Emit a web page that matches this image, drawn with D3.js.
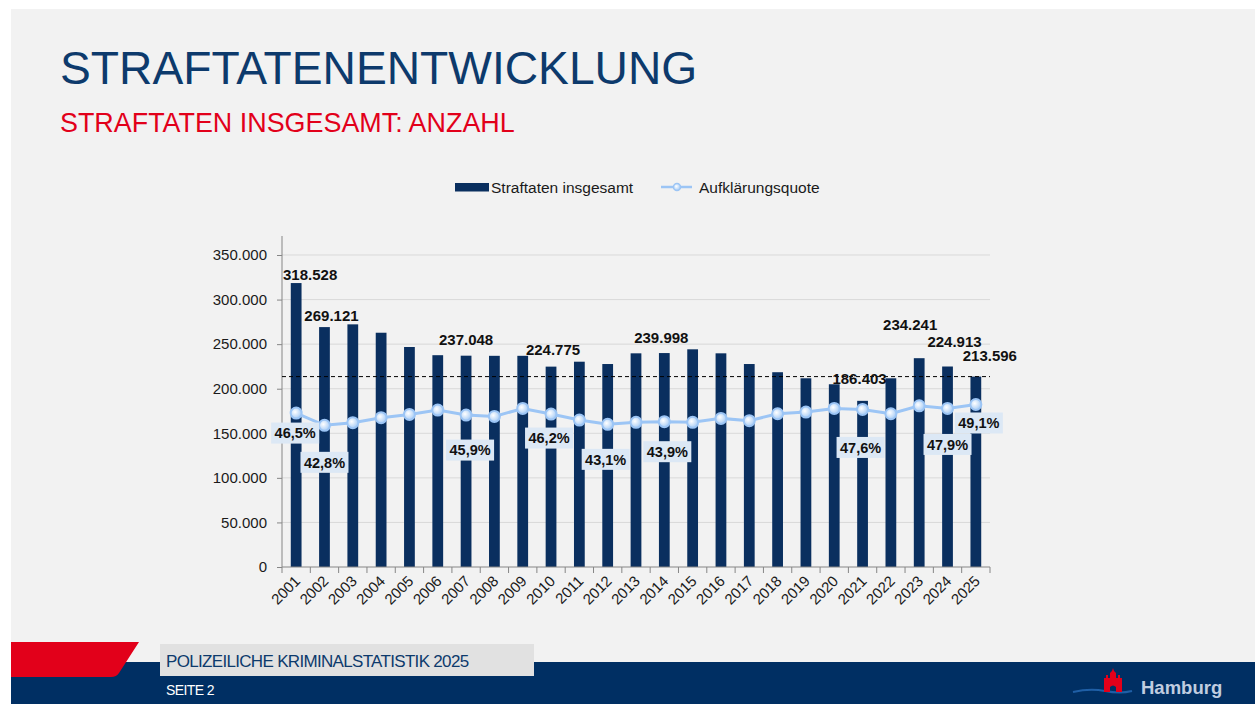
<!DOCTYPE html>
<html>
<head>
<meta charset="utf-8">
<script src="https://cdn.jsdelivr.net/npm/d3@7"></script>
<style>
  body { margin: 0; background: #ffffff; }
  svg { display: block; font-family: "Liberation Sans", Arial, sans-serif; }
</style>
</head>
<body>
<script>
//Chart data
var years = ["2001", "2002", "2003", "2004", "2005", "2006", "2007", "2008", "2009", "2010", "2011", "2012", "2013",
             "2014", "2015", "2016", "2017", "2018", "2019", "2020", "2021", "2022", "2023", "2024", "2025"];
var straftaten = [318528, 269121, 272200, 262800, 246800, 237600, 237048, 236900, 236900, 224775, 230300, 227700, 239700,
                  239998, 244200, 239700, 227700, 218500, 211700, 205000, 186403, 211700, 234241, 224913, 213596];
var quote = [46.5, 42.8, 43.6, 45.1, 46.1, 47.4, 45.9, 45.5, 47.9, 46.2, 44.4, 43.1, 43.7,
             43.9, 43.7, 44.9, 44.2, 46.3, 46.8, 47.9, 47.6, 46.3, 48.7, 47.9, 49.1];
var yTicks = [0, 50000, 100000, 150000, 200000, 250000, 300000, 350000];
var barLabelYears = ["2001", "2002", "2007", "2010", "2014", "2021", "2023", "2024", "2025"];
var quoteLabelYears = ["2001", "2002", "2007", "2010", "2012", "2014", "2021", "2024", "2025"];
var referenceValue = 213596;

//Layout / settings
var settings = {
    width: 1255,
    height: 704,
    left: 282,
    right: 990,
    bottom: 567,
    top350: 255,
    axisTop: 236,
    navy: "#0a2f5f",
    lineColor: "#9cc5f5",
    text: "#1a1a1a"
}
//hand placed label nudges (dx, dy) like in the original slide
var barLabelNudge = {"2001": [14, -3], "2002": [7, -6], "2007": [0, -11], "2010": [2, -12], "2014": [-3, -10],
                     "2021": [-3, -17], "2023": [-9, -28], "2024": [7, -20], "2025": [14, -16]};
var quoteLabelNudge = {"2001": [-1, 20], "2002": [0, 37], "2007": [4, 35], "2010": [-2, 24], "2012": [-2, 35],
                       "2014": [3, 30], "2021": [-2, 38], "2024": [0, 36], "2025": [3, 18.5]};

var deFormat = d3.formatLocale({decimal: ",", thousands: ".", grouping: [3], currency: ["", " €"]});
var fmtNum = deFormat.format(",d");
var fmtPct = function(v) { return deFormat.format(".1f")(v) + "%"; };

var svg = d3.select("body").append("svg")
    .attr("width", settings.width)
    .attr("height", settings.height);

//slide background
svg.append("rect").attr("width", settings.width).attr("height", settings.height).attr("fill", "#ffffff");
svg.append("rect").attr("x", 11).attr("y", 9).attr("width", settings.width - 11).attr("height", settings.height - 9)
    .attr("fill", "#f2f2f2");

//titles
svg.append("text").attr("x", 60).attr("y", 84).text("STRAFTATENENTWICKLUNG")
    .attr("fill", "#0d3a6c").style("font-size", "46.2px");
svg.append("text").attr("x", 60).attr("y", 132).text("STRAFTATEN INSGESAMT: ANZAHL")
    .attr("fill", "#e2001a").style("font-size", "26.9px");

//scales
var x = d3.scaleBand().domain(years).range([settings.left, settings.right]).paddingInner(0.62).paddingOuter(0.31);
var y = d3.scaleLinear().domain([0, 350000]).range([settings.bottom, settings.top350]);
var yPct = d3.scaleLinear().domain([0, 100]).range([settings.bottom, settings.axisTop]);

var data = years.map(function(yr, i) { return {year: yr, value: straftaten[i], quote: quote[i]}; });
var cx = function(d) { return x(d.year) + x.bandwidth() / 2; };

//gridlines
svg.append("g").selectAll("line").data(yTicks.filter(function(t) { return t > 0; }))
    .enter().append("line")
    .attr("x1", settings.left).attr("x2", settings.right)
    .attr("y1", function(d) { return y(d); }).attr("y2", function(d) { return y(d); })
    .attr("stroke", "#d9d9d9").attr("stroke-width", 1);

//y axis
var yAxis = svg.append("g").attr("transform", "translate(" + settings.left + ",0)")
    .call(d3.axisLeft(y).tickValues(yTicks).tickSize(5).tickPadding(10).tickFormat(function(d) { return fmtNum(d); }));
yAxis.select(".domain").remove();
yAxis.selectAll(".tick line").attr("stroke", "#868686");
yAxis.selectAll(".tick text").attr("fill", settings.text).style("font-size", "15px")
    .style("font-family", "Liberation Sans, Arial, sans-serif");
svg.append("line").attr("x1", settings.left).attr("x2", settings.left)
    .attr("y1", settings.axisTop).attr("y2", settings.bottom).attr("stroke", "#868686");

//bars
svg.append("g").selectAll("rect").data(data)
    .enter().append("rect")
    .attr("x", function(d) { return x(d.year); })
    .attr("y", function(d) { return y(d.value); })
    .attr("width", x.bandwidth())
    .attr("height", function(d) { return settings.bottom - y(d.value); })
    .attr("fill", settings.navy);

//x axis with ticks between categories
var xAxis = svg.append("g").attr("transform", "translate(0," + settings.bottom + ")");
xAxis.append("line").attr("x1", settings.left).attr("x2", settings.right).attr("stroke", "#868686");
var edges = years.map(function(yr) { return x(yr) - x.step() * x.paddingOuter(); }).concat([settings.right]);
xAxis.selectAll("line.tk").data(edges).enter().append("line").attr("class", "tk")
    .attr("x1", function(d) { return d; }).attr("x2", function(d) { return d; })
    .attr("y1", 0).attr("y2", 6).attr("stroke", "#868686");
xAxis.selectAll("text").data(data).enter().append("text")
    .attr("transform", function(d) { return "translate(" + (cx(d) + 5) + ",15) rotate(-45)"; })
    .attr("text-anchor", "end")
    .attr("fill", settings.text)
    .style("font-size", "15px")
    .text(function(d) { return d.year; });

//dashed reference line at the latest value
svg.append("line")
    .attr("x1", settings.left).attr("x2", settings.right)
    .attr("y1", y(referenceValue)).attr("y2", y(referenceValue))
    .attr("stroke", "#000000").attr("stroke-width", 1).attr("stroke-dasharray", "4,3");

//clearance rate line
var defs = svg.append("defs");
var grad = defs.append("radialGradient").attr("id", "dot").attr("cx", "40%").attr("cy", "40%").attr("r", "60%");
grad.append("stop").attr("offset", "0%").attr("stop-color", "#ffffff");
grad.append("stop").attr("offset", "100%").attr("stop-color", "#a9cdf6");

var line = d3.line().x(cx).y(function(d) { return yPct(d.quote); });
svg.append("path").datum(data).attr("d", line)
    .attr("fill", "none").attr("stroke", settings.lineColor).attr("stroke-width", 3);
svg.append("g").selectAll("circle").data(data)
    .enter().append("circle")
    .attr("cx", cx).attr("cy", function(d) { return yPct(d.quote); })
    .attr("r", 5.5)
    .attr("fill", "url(#dot)").attr("stroke", settings.lineColor).attr("stroke-width", 2);

//value labels on bars
svg.append("g").selectAll("text").data(data.filter(function(d) { return barLabelYears.indexOf(d.year) >= 0; }))
    .enter().append("text")
    .attr("x", function(d) { return cx(d) + barLabelNudge[d.year][0]; })
    .attr("y", function(d) { return y(d.value) + barLabelNudge[d.year][1]; })
    .attr("text-anchor", "middle")
    .attr("fill", "#111111")
    .style("font-size", "15px").style("font-weight", "bold")
    .text(function(d) { return fmtNum(d.value); });

//percent labels with boxes
var ql = svg.append("g").selectAll("g").data(data.filter(function(d) { return quoteLabelYears.indexOf(d.year) >= 0; }))
    .enter().append("g")
    .attr("transform", function(d) {
        return "translate(" + (cx(d) + quoteLabelNudge[d.year][0]) + "," + (yPct(d.quote) + quoteLabelNudge[d.year][1]) + ")";
    });
ql.append("rect").attr("x", -24).attr("y", -10.5).attr("width", 48).attr("height", 21).attr("fill", "#dce8f5");
ql.append("text").attr("text-anchor", "middle").attr("dy", "0.36em")
    .attr("fill", "#111111")
    .style("font-size", "14.5px").style("font-weight", "bold")
    .text(function(d) { return fmtPct(d.quote); });

//legend
var legend = svg.append("g");
legend.append("rect").attr("x", 455).attr("y", 183).attr("width", 34).attr("height", 8.5).attr("fill", settings.navy);
legend.append("text").attr("x", 491).attr("y", 192.5).text("Straftaten insgesamt")
    .attr("fill", settings.text).style("font-size", "15.5px");
legend.append("line").attr("x1", 661).attr("x2", 692).attr("y1", 187).attr("y2", 187)
    .attr("stroke", settings.lineColor).attr("stroke-width", 2.5);
legend.append("circle").attr("cx", 677).attr("cy", 187).attr("r", 3.5)
    .attr("fill", "url(#dot)").attr("stroke", settings.lineColor).attr("stroke-width", 1.5);
legend.append("text").attr("x", 699).attr("y", 192.5).text("Aufklärungsquote")
    .attr("fill", settings.text).style("font-size", "15.5px");

//footer
var footer = svg.append("g");
footer.append("rect").attr("x", 11).attr("y", 662).attr("width", settings.width - 11).attr("height", 42).attr("fill", "#002f63");
footer.append("path").attr("d", "M11,642 L139,642 L119,673 Q116.5,677 111,677 L11,677 Z").attr("fill", "#e2001a");
footer.append("rect").attr("x", 160).attr("y", 644).attr("width", 374).attr("height", 32).attr("fill", "#e1e1e1");
footer.append("text").attr("x", 166).attr("y", 667).text("POLIZEILICHE KRIMINALSTATISTIK 2025")
    .attr("fill", "#0d3a6c").style("font-size", "17px").style("letter-spacing", "-0.68px");
footer.append("text").attr("x", 166).attr("y", 695).text("SEITE 2")
    .attr("fill", "#ffffff").style("font-size", "14px").style("letter-spacing", "-0.6px");

//Hamburg logo
var logo = footer.append("g");
logo.append("path").attr("d", "M1073,692 Q1090,688 1105,691 Q1120,694 1132,691")
    .attr("fill", "none").attr("stroke", "#1f5fa6").attr("stroke-width", 2);
logo.append("path")
    .attr("d", "M1104,692 L1104,678 L1106,678 L1106,675 L1108,675 L1108,678 L1110,678 L1110,673 L1112,671 L1113,668 L1114,671 L1116,673 L1116,678 L1118,678 L1118,675 L1120,675 L1120,678 L1122,678 L1122,692 L1116,692 L1116,687 Q1113,684 1110,687 L1110,692 Z")
    .attr("fill", "#e2001a");
logo.append("text").attr("x", 1141).attr("y", 694).text("Hamburg")
    .attr("fill", "#c0cde0").style("font-size", "18.5px").style("font-weight", "bold");
</script>
</body>
</html>
